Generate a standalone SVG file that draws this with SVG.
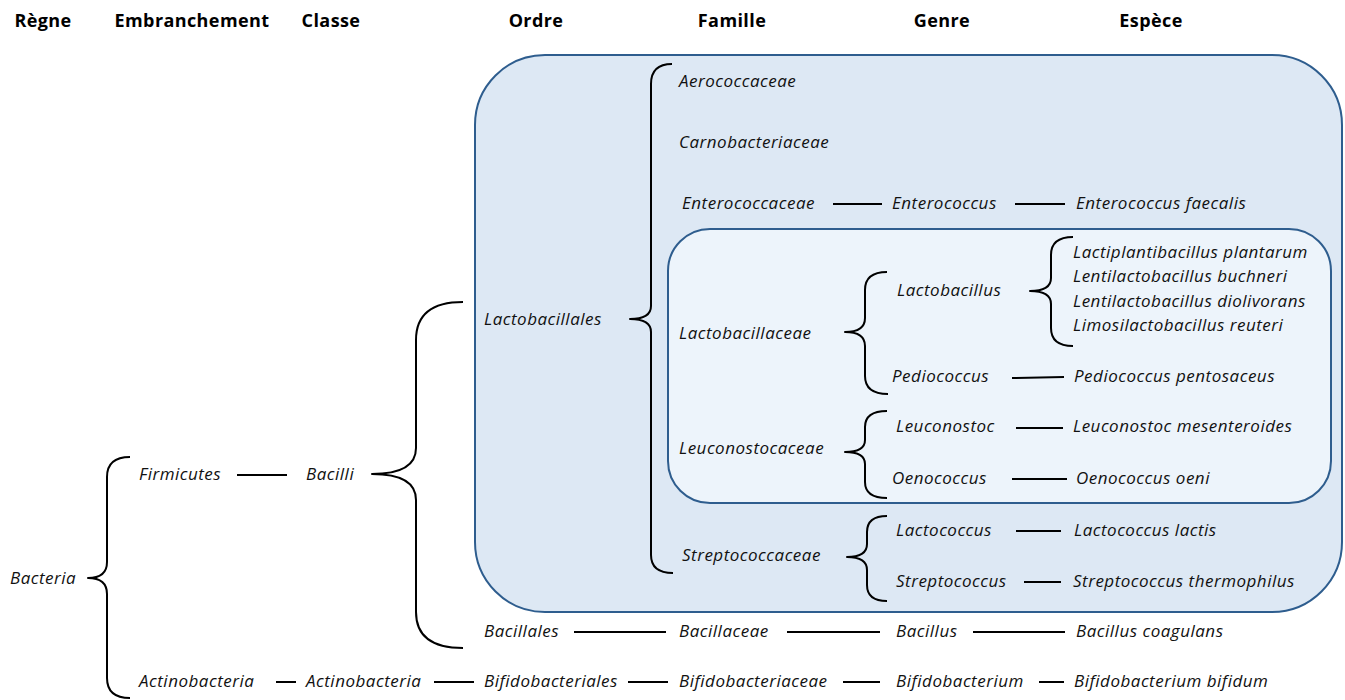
<svg xmlns="http://www.w3.org/2000/svg" width="1345" height="700" viewBox="0 0 1345 700">
<style>
.h{font-family:"Open Sans","Liberation Sans",sans-serif;font-weight:bold;font-size:18px;letter-spacing:0.4px;fill:#000;text-anchor:middle}
.t{font-family:"Open Sans","Liberation Sans",sans-serif;font-style:italic;font-size:17px;letter-spacing:0.5px;fill:#111}
.c{stroke:#000;stroke-width:2;fill:none}
.b{stroke:#000;stroke-width:2;fill:none;stroke-linejoin:round}
.outer{fill:#dde8f4;stroke:#2e5d8e;stroke-width:2}
.inner{fill:#edf4fb;stroke:#2e5d8e;stroke-width:2}
</style>
<rect width="1345" height="700" fill="#fff"/>
<g id="headers">
<text class="h" x="43" y="27">Règne</text>
<text class="h" x="192" y="27">Embranchement</text>
<text class="h" x="331" y="27">Classe</text>
<text class="h" x="536" y="27">Ordre</text>
<text class="h" x="732" y="27">Famille</text>
<text class="h" x="942" y="27">Genre</text>
<text class="h" x="1151" y="27">Espèce</text>
</g>
<g id="box-lactobacillales"><rect class="outer" x="475" y="55" width="867" height="557" rx="70" ry="70"/></g>
<g id="box-lactobacillaceae"><rect class="inner" x="668" y="229" width="663" height="274" rx="42" ry="42"/></g>
<g id="connectors">
<line class="c" x1="237" y1="475" x2="287" y2="475"/>
<line class="c" x1="276" y1="682" x2="296" y2="682"/>
<line class="c" x1="434" y1="682" x2="474" y2="682"/>
<line class="c" x1="628" y1="682" x2="668" y2="682"/>
<line class="c" x1="843" y1="682" x2="880" y2="682"/>
<line class="c" x1="1039" y1="682" x2="1064" y2="682"/>
<line class="c" x1="574" y1="632" x2="666" y2="632"/>
<line class="c" x1="787" y1="632" x2="880" y2="632"/>
<line class="c" x1="973" y1="632" x2="1065" y2="632"/>
<line class="c" x1="1016" y1="531" x2="1061" y2="531"/>
<line class="c" x1="1024" y1="582" x2="1061" y2="582"/>
<line class="c" x1="833" y1="204" x2="882" y2="204"/>
<line class="c" x1="1015" y1="204" x2="1065" y2="204"/>
<line class="c" x1="1012" y1="378" x2="1064" y2="377"/>
<line class="c" x1="1016" y1="428" x2="1063" y2="428"/>
<line class="c" x1="1012" y1="479" x2="1067" y2="479"/>
<path class="b" d="M130,457 Q107,457 107,477 L107,562 Q107,578 88,578 Q107,578 107,594 L107,678 Q107,698 130,698"/>
<path class="b" d="M463,302 Q416,302 416,340 L416,448 Q416,474 372,474 Q416,474 416,500 L416,612 Q416,648 463,648"/>
<path class="b" d="M672,64 Q651,64 651,84 L651,306 Q651,319 630,319 Q651,319 651,332 L651,555 Q651,573 673,573"/>
<path class="b" d="M887,272 Q865,272 865,290 L865,318 Q865,332 845,332 Q865,332 865,346 L865,376 Q865,394 888,394"/>
<path class="b" d="M1073,237 Q1051,237 1051,255 L1051,278 Q1051,291 1030,291 Q1051,291 1051,304 L1051,328 Q1051,346 1073,346"/>
<path class="b" d="M887,411 Q865,411 865,427 L865,440 Q865,452 845,452 Q865,452 865,464 L865,482 Q865,498 887,498"/>
<path class="b" d="M887,516 Q867,516 867,532 L867,544 Q867,557 847,557 Q867,557 867,570 L867,585 Q867,601 887,601"/>
</g>
<g id="n-bacteria"><text class="t" x="10" y="584">Bacteria</text></g>
<g id="n-firmicutes"><text class="t" x="139" y="480">Firmicutes</text></g>
<g id="n-bacilli"><text class="t" x="306" y="480">Bacilli</text></g>
<g id="n-actinobacteria-p"><text class="t" x="139" y="687">Actinobacteria</text></g>
<g id="n-actinobacteria-c"><text class="t" x="306" y="687">Actinobacteria</text></g>
<g id="n-lactobacillales"><text class="t" x="484" y="325">Lactobacillales</text></g>
<g id="n-bacillales"><text class="t" x="484" y="637">Bacillales</text></g>
<g id="n-bifidobacteriales"><text class="t" x="484" y="687">Bifidobacteriales</text></g>
<g id="n-aerococcaceae"><text class="t" x="679" y="87">Aerococcaceae</text></g>
<g id="n-carnobacteriaceae"><text class="t" x="679" y="148">Carnobacteriaceae</text></g>
<g id="n-enterococcaceae"><text class="t" x="682" y="209">Enterococcaceae</text></g>
<g id="n-enterococcus"><text class="t" x="892" y="209">Enterococcus</text></g>
<g id="n-enterococcus-faecalis"><text class="t" x="1076" y="209">Enterococcus faecalis</text></g>
<g id="n-lactobacillaceae"><text class="t" x="679" y="339">Lactobacillaceae</text></g>
<g id="n-lactobacillus"><text class="t" x="897" y="296">Lactobacillus</text></g>
<g id="n-l-plantarum"><text class="t" x="1073" y="258">Lactiplantibacillus plantarum</text></g>
<g id="n-l-buchneri"><text class="t" x="1073" y="282">Lentilactobacillus buchneri</text></g>
<g id="n-l-diolivorans"><text class="t" x="1073" y="307">Lentilactobacillus diolivorans</text></g>
<g id="n-l-reuteri"><text class="t" x="1073" y="331">Limosilactobacillus reuteri</text></g>
<g id="n-pediococcus"><text class="t" x="892" y="382">Pediococcus</text></g>
<g id="n-p-pentosaceus"><text class="t" x="1074" y="382">Pediococcus pentosaceus</text></g>
<g id="n-leuconostocaceae"><text class="t" x="679" y="454">Leuconostocaceae</text></g>
<g id="n-leuconostoc"><text class="t" x="896" y="432">Leuconostoc</text></g>
<g id="n-l-mesenteroides"><text class="t" x="1073" y="432">Leuconostoc mesenteroides</text></g>
<g id="n-oenococcus"><text class="t" x="892" y="484">Oenococcus</text></g>
<g id="n-o-oeni"><text class="t" x="1076" y="484">Oenococcus oeni</text></g>
<g id="n-streptococcaceae"><text class="t" x="682" y="561">Streptococcaceae</text></g>
<g id="n-lactococcus"><text class="t" x="896" y="536">Lactococcus</text></g>
<g id="n-l-lactis"><text class="t" x="1074" y="536">Lactococcus lactis</text></g>
<g id="n-streptococcus"><text class="t" x="896" y="587">Streptococcus</text></g>
<g id="n-s-thermophilus"><text class="t" x="1073" y="587">Streptococcus thermophilus</text></g>
<g id="n-bacillaceae"><text class="t" x="679" y="637">Bacillaceae</text></g>
<g id="n-bacillus"><text class="t" x="896" y="637">Bacillus</text></g>
<g id="n-b-coagulans"><text class="t" x="1076" y="637">Bacillus coagulans</text></g>
<g id="n-bifidobacteriaceae"><text class="t" x="679" y="687">Bifidobacteriaceae</text></g>
<g id="n-bifidobacterium"><text class="t" x="896" y="687">Bifidobacterium</text></g>
<g id="n-b-bifidum"><text class="t" x="1074" y="687">Bifidobacterium bifidum</text></g>
</svg>
